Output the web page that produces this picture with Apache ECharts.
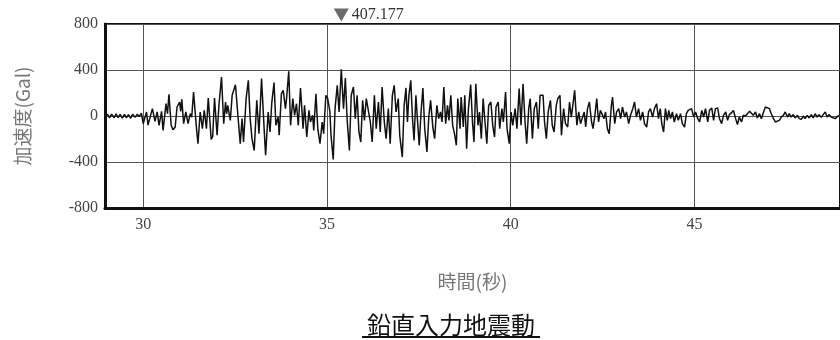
<!DOCTYPE html>
<html>
<head>
<meta charset="utf-8">
<script src="https://cdn.jsdelivr.net/npm/echarts@6/dist/echarts.min.js"></script>
<style>
html,body{margin:0;padding:0;background:#fff;}
#chart{width:840px;height:340px;}
</style>
</head>
<body>
<div id="chart"></div>
<script>
// ---- data ----
const titleText = '鉛直入力地震動';
const xAxisName = '時間(秒)';
const yAxisName = '加速度(Gal)';
const xTickValues = [30, 35, 40, 45];
const yRange = [-800, 800];
const yInterval = 400;
const xRange = [28.96, 48.96];

const timeSec = [
28.96,29.03,29.08,29.14,29.21,29.26,29.32,29.37,29.43,29.49,29.54,29.60,29.66,29.71,29.78,29.84,29.89,29.95,
30.00,30.09,30.13,30.18,30.25,30.32,30.38,30.43,30.50,30.54,30.62,30.66,30.70,30.76,30.81,30.87,30.92,30.99,31.02,31.05,
31.10,31.16,31.22,31.28,31.32,31.37,31.45,31.49,31.55,31.61,31.66,31.72,31.77,31.85,31.89,31.94,32.01,32.06,32.13,32.19,
32.24,32.27,32.30,32.37,32.42,32.51,32.58,32.64,32.69,32.73,32.80,32.86,
32.91,32.96,33.02,33.09,33.15,33.22,33.29,33.33,33.40,33.45,33.50,33.56,33.61,33.67,33.70,33.76,33.81,33.87,33.90,33.96,
34.01,34.07,34.12,34.17,34.22,34.28,34.35,34.39,34.45,34.51,34.55,34.61,34.64,34.70,34.75,34.81,34.87,34.91,34.97,35.02,
35.08,35.11,35.17,35.22,35.28,35.33,35.39,35.45,35.50,35.55,35.61,35.66,35.72,35.77,35.82,35.87,35.92,35.97,36.02,36.07,
36.12,36.18,36.23,36.29,36.34,36.40,36.45,36.50,36.56,36.61,36.67,36.72,36.78,36.83,36.88,
36.94,36.98,37.05,37.10,37.15,37.19,37.23,37.28,37.33,37.37,37.42,37.46,37.51,37.56,37.61,37.66,37.72,37.77,37.82,37.88,
37.93,37.99,38.04,38.09,38.13,38.18,38.23,38.28,38.32,38.37,38.42,38.47,38.52,38.56,38.62,38.65,38.71,38.75,38.80,38.85,
38.91,38.96,39.00,39.05,39.11,39.15,39.20,39.25,39.30,39.35,39.40,39.46,39.51,39.56,39.60,39.66,39.70,39.76,39.80,39.86,
39.90,39.96,40.01,40.055,40.12,40.17,40.23,40.28,40.335,40.39,40.435,40.49,40.53,40.59,40.64,40.70,40.75,40.80,
40.88,40.92,40.97,41.02,41.08,41.13,41.18,41.24,41.28,41.34,41.38,41.44,41.49,41.55,41.60,41.65,41.69,41.74,41.80,41.85,
41.90,41.94,42.00,42.04,42.09,42.14,42.20,42.24,42.29,42.34,42.39,42.44,42.48,42.54,42.58,42.63,42.68,42.74,42.77,42.83,
42.88,42.94,42.99,43.04,43.10,43.15,43.21,43.26,43.32,43.37,43.42,43.48,43.53,43.59,43.64,43.70,43.75,43.80,43.86,43.91,
43.97,44.02,44.07,44.11,44.16,44.21,44.26,44.30,44.35,44.40,44.45,44.51,44.56,44.62,44.67,44.73,44.78,44.83,
44.87,44.92,44.98,45.03,45.09,45.14,45.20,45.25,45.30,45.36,45.41,45.47,45.52,45.57,45.63,45.68,45.74,45.79,45.85,45.90,
45.95,46.01,46.06,46.12,46.17,46.22,46.28,46.33,46.39,46.44,46.50,46.55,46.60,46.66,46.71,46.77,46.82,46.88,46.93,46.98,
47.04,47.09,47.15,47.20,47.25,47.31,47.36,47.42,47.47,47.53,47.58,47.63,47.69,47.74,47.80,47.85,47.91,47.96,48.01,48.07,
48.12,48.18,48.23,48.28,48.34,48.39,48.45,48.50,48.56,48.61,48.66,48.72,48.77,48.83,48.88,48.93
];

const accelGal = [
0,15,-15,15,-15,18,-15,15,-18,15,-15,12,-20,15,-10,15,-5,25,
-67,35,-79,-96,64,-46,35,-81,40,-125,107,20,188,-81,-120,-96,78,122,40,145,
-67,35,-67,20,-10,209,-110,-241,35,-110,50,-110,157,-203,-180,157,-168,93,339,-67,
122,20,93,-38,180,272,-10,-240,-23,-226,151,310,
-23,-197,-300,136,-154,325,-110,-342,35,-139,122,290,-81,-9,-166,194,223,64,151,389,
-81,151,6,107,-81,244,-110,93,-183,49,-52,6,-125,194,-110,-241,-52,-154,180,151,
35,-168,-377,64,267,35,407.177,64,331,-38,-299,180,252,-23,180,-139,-226,136,-38,151,
136,-52,-226,180,-110,122,-139,252,-52,-197,64,-241,180,267,35,
151,-168,-357,93,244,-52,180,310,-38,-212,180,-23,-255,35,244,-110,-313,-9,136,-96,
-197,93,-23,35,-52,252,-67,93,-38,180,-81,-154,-255,151,-110,165,-96,180,-284,64,
273,-52,-226,281,-81,35,-197,151,-52,-241,93,122,-81,-183,78,122,-110,64,-52,209,
-110,-241,35,-81,64,-110,238,-81,281,-52,-241,64,151,-197,64,122,-110,180,
180,-52,-197,35,136,-81,-139,93,151,180,-168,64,-67,-96,122,-9,93,223,-81,35,
-67,-81,35,-96,64,122,-52,-110,6,151,-52,49,35,-23,35,-110,-154,93,165,-67,
35,64,-23,78,-9,35,-67,6,64,122,-9,64,-38,35,-67,-96,35,64,-9,64,
107,-23,64,-67,-139,64,-38,49,-23,35,-52,20,-38,20,-67,-96,20,49,
35,64,-9,35,-23,-52,49,-9,64,-52,49,70,-38,64,70,-23,-67,6,35,-38,
12,29,49,-23,-75,-9,-52,6,0,20,41,49,6,35,-17,20,-23,35,78,70,
64,20,-23,-52,-46,-38,-9,6,35,-9,20,-9,12,-17,6,-23,-29,0,-23,6,
-17,12,-17,20,-9,12,-12,12,35,-9,12,-9,0,-23,-9,5
];

// ---- chart ----
const seriesData = timeSec.map((t, i) => [t, accelGal[i]]);
let peakIdx = 0;
accelGal.forEach((v, i) => { if (v > accelGal[peakIdx]) peakIdx = i; });

const serif = '"Liberation Serif", "Times New Roman", serif';
const cjk = '"Noto Sans CJK JP", sans-serif';
const chart = echarts.init(document.getElementById('chart'), null, {renderer: 'canvas'});
chart.setOption({
  animation: false,
  backgroundColor: '#fff',
  grid: {
    left: 105, right: -3, top: 24, bottom: 132,
    show: true, borderColor: '#111', borderWidth: 2, backgroundColor: 'transparent'
  },
  xAxis: {
    type: 'value',
    min: xRange[0], max: xRange[1],
    name: xAxisName,
    nameLocation: 'middle',
    nameGap: 64,
    nameTextStyle: {fontFamily: '"Noto Sans CJK JP", ' + serif, fontSize: 19, color: '#777'},
    axisLine: {show: true, onZero: false, lineStyle: {color: '#111', width: 3}},
    axisTick: {show: false, customValues: xTickValues},
    axisLabel: {customValues: xTickValues, fontFamily: serif, fontSize: 16, color: '#444', margin: 9},
    splitLine: {show: true, lineStyle: {color: '#555', width: 1}}
  },
  yAxis: {
    type: 'value',
    min: yRange[0], max: yRange[1], interval: yInterval,
    name: yAxisName,
    nameLocation: 'middle',
    nameRotate: 90,
    nameGap: 73,
    nameTextStyle: {fontFamily: '"Noto Sans CJK JP", ' + serif, fontSize: 19, color: '#777'},
    axisLine: {show: true, lineStyle: {color: '#111', width: 3}},
    axisTick: {show: false},
    axisLabel: {fontFamily: serif, fontSize: 16, color: '#444', margin: 7},
    splitLine: {show: true, lineStyle: {color: '#555', width: 1}}
  },
  series: [{
    type: 'line',
    data: seriesData,
    showSymbol: false,
    symbol: 'none',
    lineStyle: {color: '#111', width: 1.5},
    clip: true,
    markPoint: {
      symbol: 'path://M0,0 L10,0 L5,9 Z',
      symbolSize: [15, 13],
      symbolOffset: [0, -9],
      itemStyle: {color: '#6b6b6b'},
      label: {
        show: true, position: 'right', distance: 3,
        fontFamily: serif, fontSize: 16, color: '#333',
        formatter: () => Number(accelGal[peakIdx]).toFixed(3)
      },
      data: [{coord: [timeSec[peakIdx], yRange[1]], value: accelGal[peakIdx]}]
    }
  }],
  graphic: [
    {
      type: 'text', x: 451, y: 325,
      style: {
        text: titleText, fontSize: 24, fontFamily: cjk, fill: '#111',
        align: 'center', verticalAlign: 'middle'
      }
    },
    {
      type: 'rect', x: 362, y: 336,
      shape: {width: 178, height: 2},
      style: {fill: '#111'}
    }
  ]
});
</script>
</body>
</html>
